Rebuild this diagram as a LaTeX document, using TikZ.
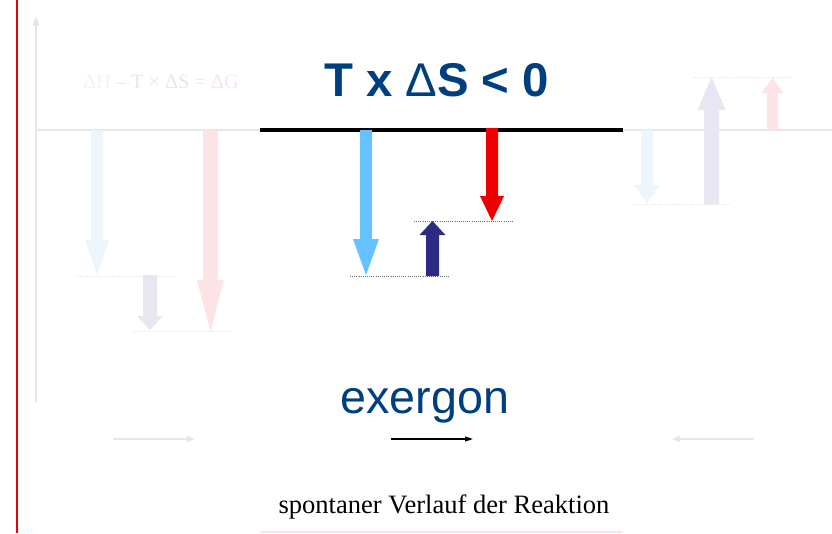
\documentclass[tikz,border=0pt]{standalone}
\usepackage{fontspec}
\setmainfont{Liberation Serif}
\newfontfamily\arialfont{Liberation Sans}
\usetikzlibrary{calc,arrows.meta}
\definecolor{DBlue}{HTML}{003F7F}
\definecolor{LBlue}{HTML}{66C2FF}
\definecolor{Navy}{HTML}{2B2B86}
\definecolor{SRed}{HTML}{EE0000}
\definecolor{FBlue}{HTML}{EDF5FD}
\definecolor{FLav}{HTML}{E8E6F0}
\definecolor{FPink}{HTML}{FCE3E5}
\definecolor{FGray}{HTML}{E6E6E6}
\definecolor{DotGray}{HTML}{6E6E6E}
\definecolor{FDot}{HTML}{E4E4E4}
% colour, x, y of foot, y of tip, half shaft, half head, head length
\NewDocumentCommand{\BlockArrow}{m m m m m m m}{
    \pgfmathsetmacro{\headbase}{#4-sign(#4-#3)*#7}
    \fill[#1] (#2-#5,#3) -- (#2-#5,\headbase) -- (#2-#6,\headbase) -- (#2,#4)
        -- (#2+#6,\headbase) -- (#2+#5,\headbase) -- (#2+#5,#3) -- cycle;
}
\tikzset{
    level/.style={densely dotted, DotGray, line width=0.6pt},
    faintlevel/.style={densely dotted, FDot, line width=0.6pt},
    flow/.style={line width=1.1pt, -{Triangle[length=6pt,width=3.6pt]}},
    faintflow/.style={FGray, line width=1.6pt, -{Triangle[length=6pt,width=4.5pt]}},
}

\begin{document}
\begin{tikzpicture}[x=0.75pt, y=-0.75pt]
\useasboundingbox (0,0) rectangle (832,533);

% faint frame of the other cases
\draw[FGray, line width=2.2pt, -{Triangle[length=8pt,width=4.5pt]}] (36,402) -- (36,15);
\draw[FGray, line width=2.2pt] (36,130) -- (832,130);
\node[font=\fontsize{15.2}{17}\selectfont, anchor=base] (formula) at (161,88)
    {\textcolor{FBlue}{ΔH} \textcolor{FLav}{– T × ΔS =} \textcolor{FPink}{ΔG}};

\draw[faintlevel] (76,276) -- (175,276);
\draw[faintlevel] (133,331) -- (232,331);
\BlockArrow{FBlue}{97}{130}{275}{6}{12}{35}
\BlockArrow{FLav}{150}{275}{330}{7}{13}{14}
\BlockArrow{FPink}{210.5}{130}{332}{7.5}{13.5}{52}

\draw[faintlevel] (693,77) -- (792,77);
\draw[faintlevel] (632,204) -- (730,204);
\BlockArrow{FBlue}{647}{130}{203}{6}{13}{18}
\BlockArrow{FLav}{711.5}{204}{77}{7.5}{14}{33}
\BlockArrow{FPink}{772.5}{130}{78}{5.5}{11}{15}

% middle case
\draw[black, line width=2.4pt] (260,130) -- (623,130);
\node[font=\arialfont\bfseries\fontsize{35.5}{40}\selectfont, text=DBlue, anchor=base]
    (title) at (436.5,96) {T x {\mdseries Δ}S < 0};

\draw[level] (350,276) -- (449,276);
\draw[level] (414,221) -- (513,221);
\BlockArrow{LBlue}{366}{130}{275}{6}{13}{36}
\BlockArrow{Navy}{432.5}{276}{221}{6.5}{13}{14}
\BlockArrow{SRed}{492}{128}{221}{6}{12}{25}

\node[font=\arialfont\fontsize{35}{40}\selectfont, text=DBlue, anchor=base]
    (exergon) at (425,413) {exergon};

% direction of the reaction
\coordinate (go-start) at (391,439);
\coordinate (go-end) at (473,439);
\coordinate (left-start) at (113,439);
\coordinate (left-end) at (195,439);
\coordinate (right-start) at (754,439);
\coordinate (right-end) at (672,439);
\draw[flow] (go-start) -- (go-end);
\draw[faintflow] (left-start) -- (left-end);
\draw[faintflow] (right-start) -- (right-end);

\node[font=\fontsize{19.9}{22}\selectfont, anchor=base] (verlauf) at (444,513)
    {spontaner Verlauf der Reaktion};
\draw[FPink, line width=1.2pt] (260,532) -- (623,532);

\draw[SRed, line width=1.5pt] (17,0) -- (17,533);
\end{tikzpicture}
\end{document}
